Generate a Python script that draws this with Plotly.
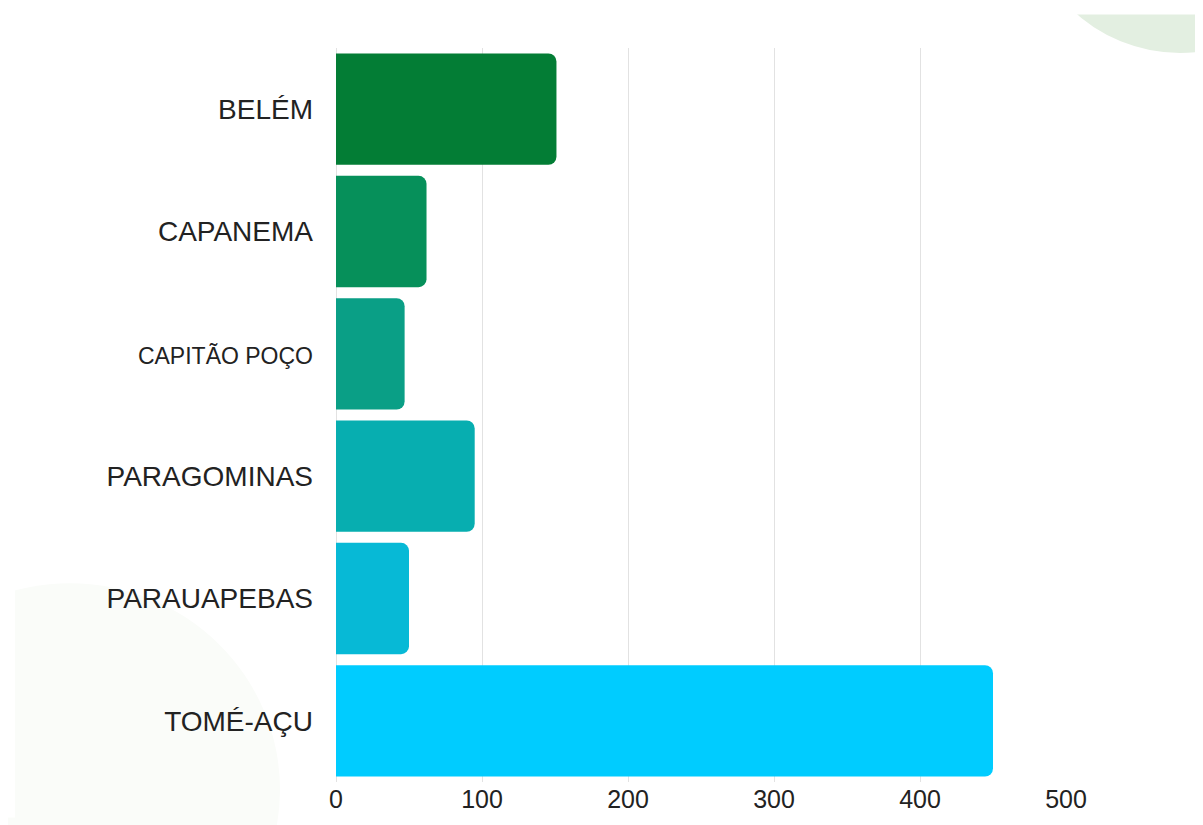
import plotly.graph_objects as go

# Data
categories = ["BELÉM", "CAPANEMA", "CAPITÃO POÇO", "PARAGOMINAS", "PARAUAPEBAS", "TOMÉ-AÇU"]
values = [151, 62, 47, 95, 50, 450]
colors = ["#037D35", "#06905A", "#0A9F86", "#07AEB0", "#07B9D6", "#00CCFF"]
x_ticks = [0, 100, 200, 300, 400, 500]
label_sizes = {"CAPITÃO POÇO": 23}

# page has an 8px body margin; figure sized to fit the window
OFF = 8
W, H = 1203 - OFF, 825 - OFF
PL, PR, PT, PB = 336, 1066, 48, 794  # plot area in page pixels
L, R, T, B = PL - OFF, (W + OFF) - PR, PT - OFF, (H + OFF) - PB
pw, ph = PR - PL, PB - PT

def px(x):
    return (x - PL) / pw

def py(y):
    return (PB - y) / ph

fig = go.Figure(
    go.Bar(
        x=values,
        y=categories,
        orientation="h",
        marker=dict(color=colors, line=dict(width=0)),
        hoverinfo="x+y",
    )
)

# faint decorative background shapes
fig.add_shape(type="circle", xref="paper", yref="paper",
              x0=px(1180 - 155), x1=px(1180 + 155), y0=py(-102 + 155), y1=py(-102 - 155),
              fillcolor="#E3EFE1", line=dict(width=0), layer="below")
fig.add_shape(type="circle", xref="paper", yref="paper",
              x0=px(-140), x1=px(280), y0=py(592), y1=py(1012),
              fillcolor="#FAFCF9", line=dict(width=0), layer="below")
fig.add_shape(type="rect", xref="paper", yref="paper",
              x0=px(0), x1=px(15), y0=py(0), y1=py(830),
              fillcolor="white", line=dict(width=0), layer="below")
fig.add_shape(type="rect", xref="paper", yref="paper",
              x0=px(0), x1=px(1210), y0=py(0), y1=py(14),
              fillcolor="white", line=dict(width=0), layer="below")

ticktext = [
    f'<span style="font-size:{label_sizes[c]}px">{c}</span>' if c in label_sizes else c
    for c in categories
]

fig.update_layout(
    width=W, height=H,
    margin=dict(l=L, r=R, t=T, b=B, pad=0),
    paper_bgcolor="white",
    plot_bgcolor="rgba(0,0,0,0)",
    bargap=0.09,
    barcornerradius=8,
    showlegend=False,
    font=dict(family="Liberation Sans, Arial, sans-serif", color="#222222"),
    xaxis=dict(
        range=[0, 500],
        tickvals=x_ticks,
        showgrid=True, gridcolor="#E2E2E2", gridwidth=1,
        zeroline=True, zerolinecolor="#E2E2E2", zerolinewidth=1,
        showline=False,
        tickfont=dict(size=25, color="#222222"),
        ticks="", ticklabelstandoff=0,
        fixedrange=True,
    ),
    yaxis=dict(
        categoryorder="array",
        categoryarray=categories[::-1],
        tickvals=categories,
        ticktext=ticktext,
        showgrid=False, zeroline=False, showline=False,
        tickfont=dict(size=28, color="#222222"),
        ticks="", ticklabelstandoff=22,
        fixedrange=True,
    ),
)

fig.write_html("out.html")
